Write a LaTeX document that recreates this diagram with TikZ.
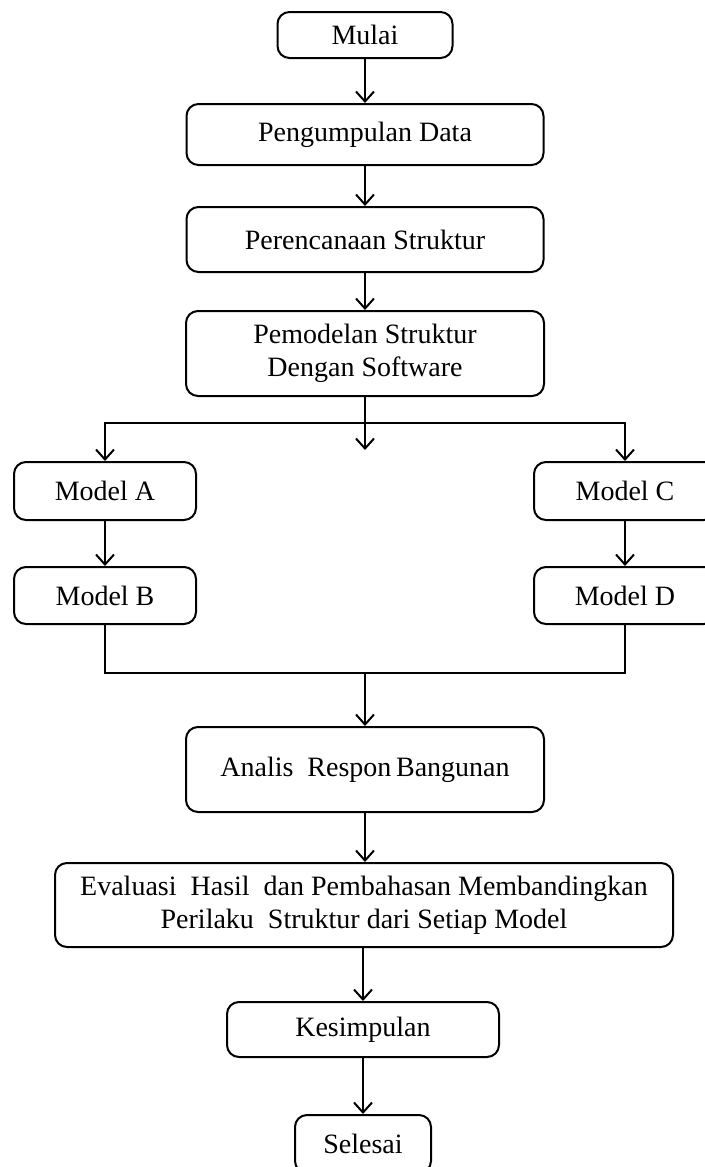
\documentclass[tikz,border=0pt]{standalone}
\usepackage{fontspec}
\setmainfont{Liberation Serif}
\usetikzlibrary{arrows.meta}
\begin{document}
\begin{tikzpicture}[x=1pt,y=-1pt,
  box/.style={draw, rounded corners=12pt, line width=2pt, align=center,
    inner sep=0pt, font=\fontsize{28}{33}\selectfont},
  arr/.style={line width=2pt, -{Straight Barb[length=10pt,width=18pt,line width=2pt]}},
  ln/.style={line width=2pt}]
\useasboundingbox (0,0) rectangle (704,1167);
\node[box, minimum width=175pt, minimum height=46pt] (mulai) at (365,35) {Mulai};
\node[box, minimum width=357pt, minimum height=61pt] (peng) at (365,134.5) {Pengumpulan Data};
\node[box, minimum width=357pt, minimum height=65pt] (renc) at (365,239.5) {Perencanaan Struktur};
\node[box, minimum width=358pt, minimum height=85pt] (pemo) at (365,353.5) {Pemodelan Struktur\\Dengan Software};
\coordinate (sp) at (365,423);
\coordinate (spend) at (365,450);
\node[box, minimum width=182pt, minimum height=58pt] (ma) at (105,491) {Model A};
\node[box, minimum width=182pt, minimum height=57pt] (mb) at (105,595.5) {Model B};
\node[box, minimum width=182pt, minimum height=58pt] (mc) at (625,491) {Model C};
\node[box, minimum width=182pt, minimum height=57pt] (md) at (625,595.5) {Model D};
\coordinate (jn) at (365,673);
\node[box, minimum width=358pt, minimum height=85pt] (anal) at (365,769.5) {Analis\ \ Respon\,Bangunan};
\node[box, minimum width=618pt, minimum height=84pt] (eval) at (364,905) {Evaluasi\ \ Hasil\ \ dan Pembahasan Membandingkan\\Perilaku\ \ Struktur dari Setiap Model};
\node[box, minimum width=272pt, minimum height=55pt] (kes) at (363,1029.5) {Kesimpulan};
\node[box, minimum width=136pt, minimum height=58pt] (sel) at (363,1144) {Selesai};
\draw[arr] (mulai) -- (peng);
\draw[arr] (peng) -- (renc);
\draw[arr] (renc) -- (pemo);
\draw[arr] (pemo) -- (spend);
\draw[arr] (sp) -| (ma);
\draw[arr] (sp) -| (mc);
\draw[arr] (ma) -- (mb);
\draw[arr] (mc) -- (md);
\draw[ln] (mb.south) |- (jn) -| (md.south);
\draw[arr] (jn) -- (anal);
\draw[arr] (anal.south) -- (anal.south |- eval.north);
\draw[arr] (eval.south -| kes.north) -- (kes);
\draw[arr] (kes) -- (sel);
\end{tikzpicture}
\end{document}
